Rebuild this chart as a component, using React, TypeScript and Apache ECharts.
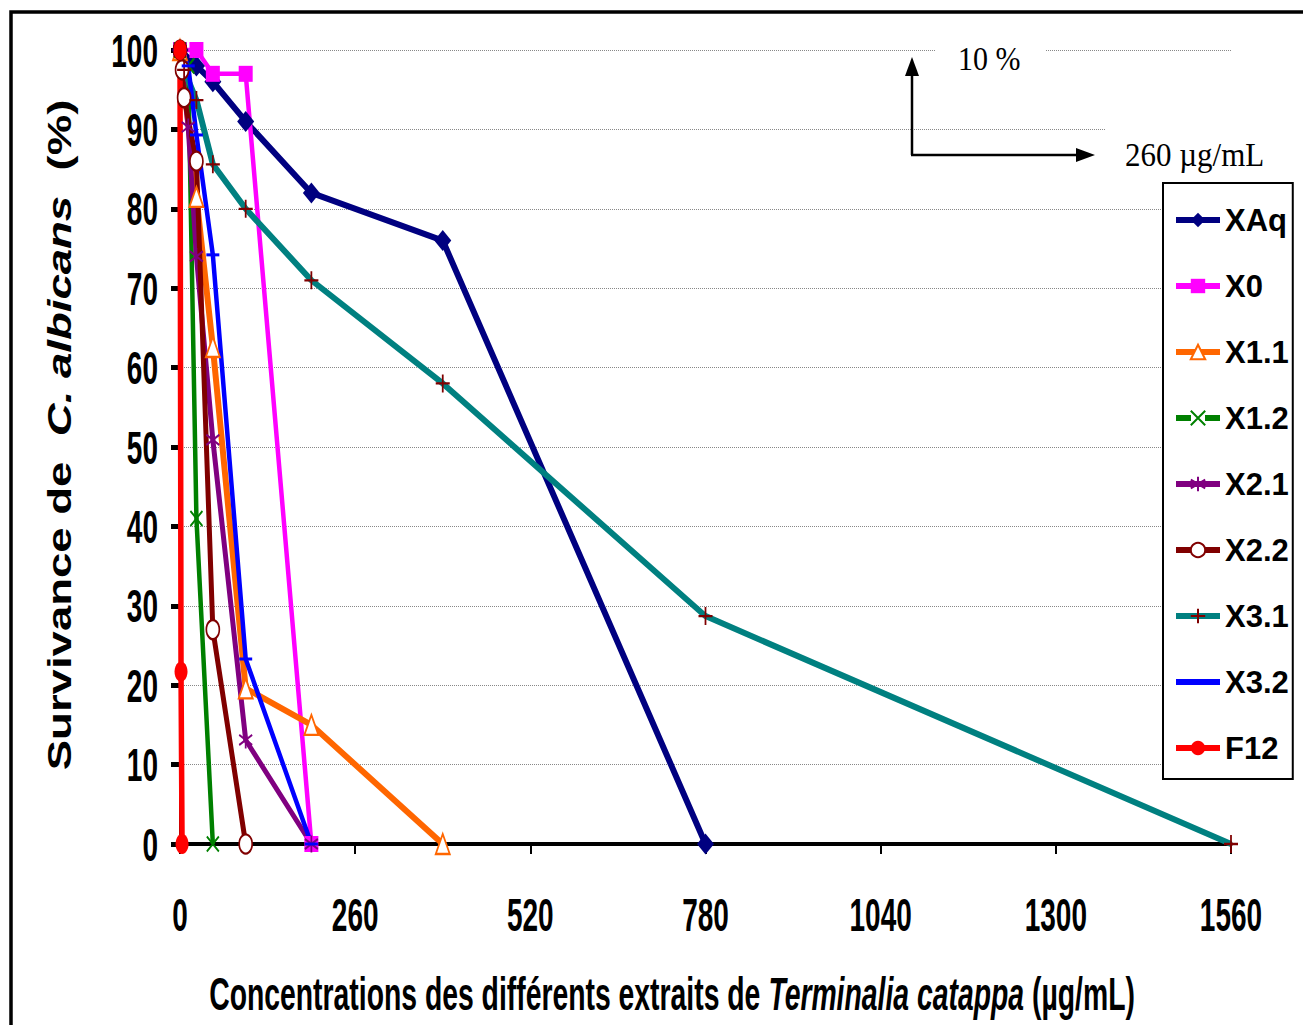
import React, { useEffect, useRef } from "react";
import * as echarts from "echarts";

// Axis ticks
const X_TICKS = [0, 260, 520, 780, 1040, 1300, 1560];
const Y_TICKS = [0, 10, 20, 30, 40, 50, 60, 70, 80, 90, 100];

// Concentrations (µg/mL) and survival (%) per extract
const XAQ_X = [0, 24.375, 48.75, 97.5, 195, 390, 780];
const XAQ_Y = [100, 98, 96, 91, 82, 76, 0];

const X0_X = [0, 24.375, 48.75, 97.5, 195];
const X0_Y = [100, 100, 97, 97, 0];

const X11_X = [0, 24.375, 48.75, 97.5, 195, 390];
const X11_Y = [100, 81.5, 62.6, 19.6, 15, 0];

const X12_X = [0, 12.19, 24.375, 48.75];
const X12_Y = [100, 98, 41, 0];

const X21_X = [0, 12.19, 24.375, 48.75, 97.5, 195];
const X21_Y = [100, 90.3, 74, 50.9, 13.1, 0];

const X22_X = [0, 3.05, 6.09, 24.375, 48.75, 97.5];
const X22_Y = [100, 97.5, 94, 86, 27, 0];

const X31_X = [0, 6.09, 24.375, 48.75, 97.5, 195, 390, 780, 1560];
const X31_Y = [100, 97.5, 93.7, 85.6, 80, 71, 58, 28.7, 0];

const X32_X = [0, 12.19, 24.375, 48.75, 97.5, 195];
const X32_Y = [100, 98, 89.3, 74.2, 23.3, 0];

const F12_X = [0, 1.52, 3.05];
const F12_Y = [100, 21.7, 0];

const SERIES_NAMES = ["XAq", "X0", "X1.1", "X1.2", "X2.1", "X2.2", "X3.1", "X3.2", "F12"];

const X_NAME = "Concentrations des différents extraits de {i|Terminalia catappa} (µg/mL)";
const Y_NAME = "Survivance de  {i|C. albicans}  (%)";

const SANS = "'Liberation Sans',Arial,Helvetica,sans-serif";
const SERIF = "'Liberation Serif','Times New Roman',serif";

const pairs = (xs: number[], ys: number[]) => xs.map((x, i) => [x, ys[i]]);

const SYM_PLUS = "path://M5,0L5,10M0,5L10,5";
const SYM_X = "path://M0,0L10,10M10,0L0,10";
const SYM_STAR = "path://M5,0L5,10M0,2L10,8M0,8L10,2";

export default function App() {
  const ref = useRef<HTMLDivElement>(null);
  useEffect(() => {
    if (!ref.current) return;
    const chart = echarts.init(ref.current, null, { renderer: "svg" });

    const mk = (name: string, xs: number[], ys: number[], lineColor: string, width: number, sym: any, size: any, item: any) => ({
      name,
      type: "line",
      data: pairs(xs, ys),
      color: lineColor,
      lineStyle: { color: lineColor, width },
      symbol: sym,
      symbolSize: size,
      itemStyle: item,
      clip: false,
      emphasis: { disabled: true },
    });

    const legendData = SERIES_NAMES.map((n) => {
      if (n === "X3.2") return { name: n, itemStyle: { color: "transparent", borderWidth: 0 } };
      if (n === "X1.2") return { name: n, lineStyle: { type: [15, 14] } };
      return { name: n };
    });

    const option: any = {
      animation: false,
      backgroundColor: "#fff",
      grid: { left: 180, right: 72, top: 50, bottom: 181, containLabel: false, outerBoundsMode: "none" },
      xAxis: {
        type: "value",
        min: X_TICKS[0],
        max: X_TICKS[X_TICKS.length - 1],
        interval: X_TICKS[1] - X_TICKS[0],
        axisLine: { lineStyle: { color: "#000", width: 4 } },
        axisTick: { show: true, length: 10, lineStyle: { color: "#000", width: 2 } },
        splitLine: { show: false },
        axisLabel: { show: false },
      },
      yAxis: {
        type: "value",
        min: Y_TICKS[0],
        max: Y_TICKS[Y_TICKS.length - 1],
        interval: Y_TICKS[1] - Y_TICKS[0],
        axisLine: { show: true, lineStyle: { color: "#000", width: 2 } },
        axisTick: { show: true, length: 9, lineStyle: { color: "#000", width: 5 } },
        splitLine: { show: true, lineStyle: { color: "#888", type: "dotted", width: 1 } },
        axisLabel: { show: false },
      },
      legend: {
        data: legendData,
        orient: "vertical",
        left: 1163,
        top: 183,
        padding: [14, 4, 8, 10],
        itemGap: 20,
        itemWidth: 44,
        itemHeight: 18,
        backgroundColor: "#fff",
        borderColor: "#000",
        borderWidth: 2,
        borderRadius: 0,
        lineStyle: { width: 6 },
        textStyle: { fontFamily: SANS, fontWeight: "bold", fontSize: 31, color: "#000", lineHeight: 46 },
        z: 10,
      },
      series: [
        mk("XAq", XAQ_X, XAQ_Y, "#000080", 6, "diamond", [17, 21], { color: "#000080" }),
        mk("X0", X0_X, X0_Y, "#FF00FF", 4.5, "rect", [14, 16], { color: "#FF00FF" }),
        mk("X1.1", X11_X, X11_Y, "#FF6600", 6, "triangle", [14, 20], { color: "#fff", borderColor: "#FF6600", borderWidth: 2 }),
        mk("X1.2", X12_X, X12_Y, "#008000", 4.5, SYM_X, [12, 15], { color: "transparent", borderColor: "#008000", borderWidth: 2 }),
        mk("X2.1", X21_X, X21_Y, "#800080", 5, SYM_STAR, [13, 17], { color: "transparent", borderColor: "#800080", borderWidth: 2 }),
        mk("X2.2", X22_X, X22_Y, "#800000", 5, "circle", [13, 19], { color: "#fff", borderColor: "#800000", borderWidth: 2 }),
        mk("X3.1", X31_X, X31_Y, "#008080", 6, SYM_PLUS, [14, 18], { color: "transparent", borderColor: "#800000", borderWidth: 2 }),
        mk("X3.2", X32_X, X32_Y, "#0000FF", 4.5, "rect", [13, 3], { color: "#0000FF" }),
        mk("F12", F12_X, F12_Y, "#FF0000", 5.5, "circle", [13, 20], { color: "#FF0000" }),
      ],
    };
    chart.setOption(option);

    // Tick labels placed with the chart's own scales
    const labelStyle = (text: string, align: string) => ({
      text,
      fontSize: 35,
      fontWeight: "bold",
      fontFamily: SANS,
      fill: "#000",
      align,
      verticalAlign: "middle",
    });
    const xLabels = X_TICKS.map((v) => {
      const p = chart.convertToPixel({ gridIndex: 0 }, [v, 0]) as number[];
      return { type: "text", z: 20, x: p[0], y: p[1] + 71, scaleX: 0.8, scaleY: 1.3, style: labelStyle(String(v), "center") };
    });
    const yLabels = Y_TICKS.map((v) => {
      const p = chart.convertToPixel({ gridIndex: 0 }, [0, v]) as number[];
      return { type: "text", z: 20, x: p[0] - 22, y: p[1] + 1, scaleX: 0.8, scaleY: 1.3, style: labelStyle(String(v), "right") };
    });
    const origin = chart.convertToPixel({ gridIndex: 0 }, [X_TICKS[0], Y_TICKS[0]]) as number[];
    const corner = chart.convertToPixel({ gridIndex: 0 }, [X_TICKS[X_TICKS.length - 1], Y_TICKS[Y_TICKS.length - 1]]) as number[];

    const graphics: any[] = [
      ...xLabels,
      ...yLabels,
      {
        type: "text",
        z: 20,
        x: 672,
        y: origin[1] + 150,
        scaleX: 0.81,
        scaleY: 1.3,
        style: {
          text: X_NAME,
          fontSize: 35,
          fontWeight: "bold",
          fontFamily: SANS,
          fill: "#000",
          align: "center",
          verticalAlign: "middle",
          rich: { i: { fontSize: 35, fontWeight: "bold", fontStyle: "italic", fontFamily: SANS, fill: "#000" } },
        },
      },
      {
        type: "text",
        z: 20,
        x: 59,
        y: (origin[1] + corner[1]) / 2 - 12,
        rotation: Math.PI / 2,
        scaleX: 1.38,
        scaleY: 1,
        style: {
          text: Y_NAME,
          fontSize: 33,
          fontWeight: "bold",
          fontFamily: SANS,
          fill: "#000",
          align: "center",
          verticalAlign: "middle",
          rich: { i: { fontSize: 33, fontWeight: "bold", fontStyle: "italic", fontFamily: SANS, fill: "#000" } },
        },
      },
      { type: "rect", z: 50, silent: true, shape: { x: 935, y: 38, width: 110, height: 34 }, style: { fill: "#fff" } },
      { type: "rect", z: 50, silent: true, shape: { x: 1105, y: 118, width: 198, height: 62 }, style: { fill: "#fff" } },
      { type: "text", z: 51, x: 958, y: 59, scaleY: 1.1, style: { text: "10 %", fontSize: 30, fontFamily: SERIF, fill: "#000", align: "left", verticalAlign: "middle" } },
      { type: "text", z: 51, x: 1125, y: 154, scaleY: 1.1, style: { text: "260 µg/mL", fontSize: 31, fontFamily: SERIF, fill: "#000", align: "left", verticalAlign: "middle" } },
      { type: "line", z: 51, shape: { x1: 912, y1: 155, x2: 912, y2: 72 }, style: { stroke: "#000", lineWidth: 2.5 } },
      { type: "polygon", z: 51, shape: { points: [[905, 76], [919, 76], [912, 57]] }, style: { fill: "#000" } },
      { type: "line", z: 51, shape: { x1: 911, y1: 155, x2: 1078, y2: 155 }, style: { stroke: "#000", lineWidth: 2.5 } },
      { type: "polygon", z: 51, shape: { points: [[1076, 148], [1076, 162], [1095, 155]] }, style: { fill: "#000" } },
      { type: "rect", z: 100, silent: true, shape: { x: 11, y: 12, width: 1400, height: 1100 }, style: { fill: "none", stroke: "#000", lineWidth: 3.5 } },
    ];
    chart.setOption({ graphic: graphics });
    return () => chart.dispose();
  }, []);
  return <div ref={ref} style={{ position: "absolute", left: 0, top: 0, width: 1303, height: 1025 }} />;
}
